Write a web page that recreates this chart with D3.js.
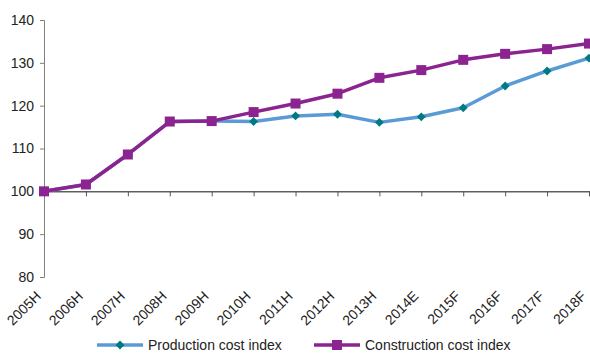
<!DOCTYPE html>
<html>
<head>
<meta charset="utf-8">
<script src="https://cdn.jsdelivr.net/npm/d3@7"></script>
<style>
  body { margin: 0; background: #fff; }
  svg { display: block; font-family: "Liberation Sans", Arial, sans-serif; }
</style>
</head>
<body>
<svg id="chart" width="590" height="354"></svg>
<script>
// Cost index series, base 2005 = 100
const periods = ["2005H","2006H","2007H","2008H","2009H","2010H","2011H","2012H","2013H","2014E","2015F","2016F","2017F","2018F"];
const productionCost = [100, 101.6, 108.6, 116.3, 116.4, 116.3, 117.6, 118.0, 116.1, 117.4, 119.5, 124.6, 128.1, 131.1];
const constructionCost = [100, 101.6, 108.6, 116.3, 116.4, 118.5, 120.5, 122.8, 126.5, 128.3, 130.7, 132.1, 133.2, 134.5];
const yTicks = [80, 90, 100, 110, 120, 130, 140];
const seriesNames = ["Production cost index", "Construction cost index"];

const svg = d3.select("#chart");
const plot = { left: 44, right: 589, top: 20, bottom: 277 };
const fontSize = 14;

const x = d3.scalePoint().domain(periods).range([plot.left, plot.right]);
const y = d3.scaleLinear().domain([80, 140]).range([plot.bottom, plot.top]);

// Y axis
const yAxis = d3.axisLeft(y).tickValues(yTicks).tickSize(4).tickPadding(6).tickFormat(d3.format("d"));
const gy = svg.append("g").attr("transform", `translate(${plot.left},0)`).call(yAxis);
gy.select(".domain").attr("stroke", "#7f7f7f");
gy.selectAll(".tick line").attr("stroke", "#7f7f7f");
gy.selectAll(".tick text").attr("font-size", fontSize).attr("fill", "#222");

// X axis crossing at 100
const xAxis = d3.axisBottom(x).tickSize(5).tickFormat("");
const gx = svg.append("g").attr("transform", `translate(0,${y(100)})`).call(xAxis);
gx.select(".domain").attr("stroke", "#111").attr("d", `M${plot.left},0.5H${plot.right + 1}`);
gx.selectAll(".tick line").attr("stroke", "#555");

// Rotated category labels below the plot
svg.append("g").selectAll("text").data(periods).join("text")
  .attr("transform", d => `translate(${x(d) - 2},${plot.bottom + 20}) rotate(-45)`)
  .attr("text-anchor", "end")
  .attr("font-size", fontSize)
  .attr("fill", "#222")
  .text(d => d);

const line = d3.line().x((d, i) => x(periods[i])).y(d => y(d));

// Production cost: light blue line with teal diamonds
svg.append("path").datum(productionCost)
  .attr("d", line).attr("fill", "none")
  .attr("stroke", "#5b9bd5").attr("stroke-width", 3.5).attr("stroke-linejoin", "round");
svg.append("g").selectAll("path").data(productionCost).join("path")
  .attr("d", d3.symbol(d3.symbolDiamond2, 50))
  .attr("transform", (d, i) => `translate(${x(periods[i])},${y(d)})`)
  .attr("fill", "#007a82");

// Construction cost: purple line with square markers
svg.append("path").datum(constructionCost)
  .attr("d", line).attr("fill", "none")
  .attr("stroke", "#8b2390").attr("stroke-width", 3.5).attr("stroke-linejoin", "round");
svg.append("g").selectAll("rect").data(constructionCost).join("rect")
  .attr("x", (d, i) => x(periods[i]) - 5)
  .attr("y", d => y(d) - 5)
  .attr("width", 10).attr("height", 10)
  .attr("fill", "#8b2390");

// Legend
const ly = 345;
const leg1 = svg.append("g");
leg1.append("line").attr("x1", 97).attr("x2", 143).attr("y1", ly).attr("y2", ly)
  .attr("stroke", "#5b9bd5").attr("stroke-width", 3.5);
leg1.append("path").attr("d", d3.symbol(d3.symbolDiamond2, 50))
  .attr("transform", `translate(120,${ly})`).attr("fill", "#007a82");
leg1.append("text").attr("x", 148).attr("y", ly + 5).attr("font-size", fontSize).attr("fill", "#222").text(seriesNames[0]);

const leg2 = svg.append("g");
leg2.append("line").attr("x1", 314).attr("x2", 360).attr("y1", ly).attr("y2", ly)
  .attr("stroke", "#8b2390").attr("stroke-width", 3.5);
leg2.append("rect").attr("x", 332).attr("y", ly - 5).attr("width", 10).attr("height", 10).attr("fill", "#8b2390");
leg2.append("text").attr("x", 365).attr("y", ly + 5).attr("font-size", fontSize).attr("fill", "#222").text(seriesNames[1]);
</script>
</body>
</html>
